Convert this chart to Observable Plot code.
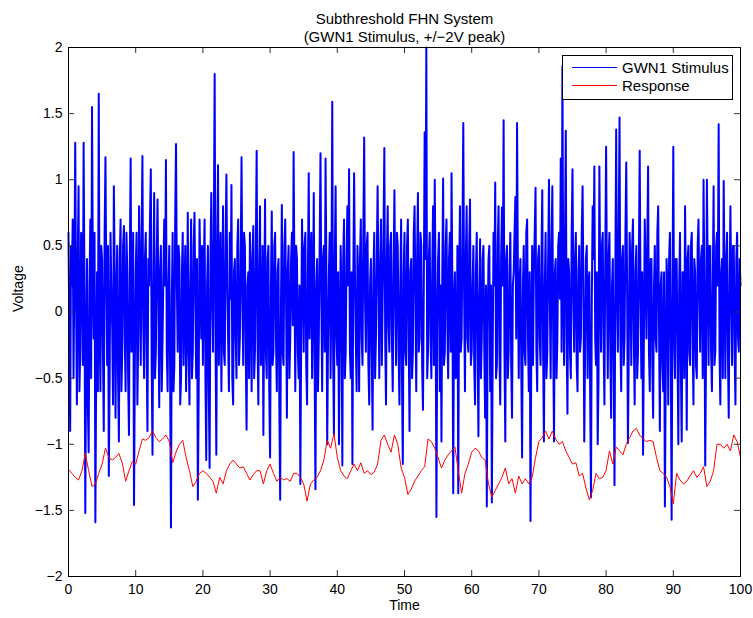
<!DOCTYPE html>
<html><head><meta charset="utf-8">
<script src="https://cdn.jsdelivr.net/npm/d3@7"></script>
<script src="https://cdn.jsdelivr.net/npm/@observablehq/plot@0.6"></script>
<style>
body{margin:0;background:#fff;}
#wrap{position:relative;width:753px;height:618px;font-family:"Liberation Sans",Arial,sans-serif;}
#legend{position:absolute;left:562px;top:55px;width:169px;height:43px;border:1px solid #000;background:#fff;font-size:15px;color:#000;}
.row{position:absolute;left:0;height:18px;display:flex;align-items:center;white-space:nowrap;}
.sw{display:inline-block;width:45px;height:0;border-top:1px solid;margin-left:9px;margin-right:5px;}
</style></head><body><div id="wrap"></div>
<script>
const stimulus = [
  0.6,-0.2,-0.9,0.5,0.2,0.7,-0.5,0.3,1.28,0.1,-0.7,0.4,0.95,-0.6,-0.3,0.6,0.5,-0.4,1.28,0.2,-1.52,-0.3,0.4,-0.7,-1.06,0.2,0.7,-0.5,1.55,0.3,-0.2,0.6,-1.59,-0.4,0.3,-0.6,1.65,-0.1,-0.6,0.5,0.4,-0.3,-0.9,0.6,1.17,0.2,-0.4,0.5,-1.24,-0.5,0.6,0.2,-0.1,-0.7,0.95,0.3,-0.8,0.1,0.5,-0.5,-0.98,0.4,0.7,-0.6,-0.3,0.5,0.65,-0.2,-0.6,0.6,0.3,-0.5,-0.93,0.4,1.16,-0.3,0.1,0.6,-1.46,-0.4,
  0.3,0.6,-0.7,-0.2,0.8,0.3,-0.4,0.5,1.18,-0.1,-0.5,0.4,0.6,-0.3,-0.9,0.4,0.2,0.7,1.08,-0.4,-1.08,0.2,0.9,-0.5,-0.3,0.4,0.85,0.1,-0.72,0.3,0.5,-0.6,-0.2,0.3,0.7,0.2,1.15,-0.3,-0.6,0.2,0.5,-0.5,-1.63,0.1,0.6,-0.6,-0.4,0.7,1.27,0.2,-0.3,0.5,0.4,-0.7,-0.5,0.3,0.6,-0.4,0.1,0.5,-0.6,-0.1,0.75,-0.3,-0.7,0.2,0.7,-0.5,-0.3,0.5,0.75,0.1,-0.5,0.4,-1.42,-0.6,0.7,0.3,-0.2,0.5,
  -0.4,0.3,0.7,-0.5,-1.12,0.2,0.5,-0.6,-1.18,0.4,0.9,0.1,-0.3,0.6,1.8,-0.2,-1.08,0.5,1.11,-0.4,0.2,0.6,-0.6,0.1,0.8,-0.3,-0.4,0.5,1.04,0.2,-0.2,-0.6,0.6,0.1,0.96,-0.5,-0.7,0.3,0.4,-0.2,-0.5,0.5,0.7,-0.4,-0.2,0.4,1.17,0.1,-0.4,0.6,0.5,-0.3,-0.89,0.2,0.3,-0.5,0.6,0.2,-0.6,0.4,0.65,-0.5,-0.3,0.5,1.22,-0.2,-0.7,0.3,0.8,-0.4,-0.2,0.5,-0.93,0.1,0.85,-0.3,-0.5,0.4,0.5,-0.6,
  -1.1,0.2,0.76,-0.4,-0.3,0.5,0.6,-0.2,-0.6,0.3,0.4,-0.7,-1.42,0.1,0.81,-0.3,-0.4,0.5,0.7,0.1,-0.8,0.3,0.5,-0.5,-0.2,0.4,0.6,-0.1,1.21,0.2,-0.6,0.5,0.4,-0.3,-0.5,0.2,-1.3,-0.2,0.7,0.3,-0.3,0.5,0.6,-0.4,-0.7,0.3,1.05,-0.2,0.2,0.6,-0.5,0.1,0.9,-0.4,-1.34,0.2,0.4,-0.6,-0.2,0.5,1.2,0.1,-0.6,0.4,0.5,-0.3,1.16,0.3,-1.0,-0.2,0.3,0.6,-0.5,0.2,1.59,-0.3,-0.93,0.4,0.95,-0.2,
  -0.4,0.3,-1.0,-0.2,0.5,0.1,-1.16,0.4,0.7,-0.5,-0.3,0.4,0.8,0.2,1.08,-0.3,-0.5,0.3,-1.15,0.2,1.05,0.3,-0.2,-0.6,0.5,0.2,-0.6,0.4,0.7,-0.2,-0.4,0.6,1.32,0.1,-0.3,0.5,0.6,-0.4,-0.7,0.2,0.4,-0.3,-0.89,0.3,0.6,-0.5,-0.2,0.4,0.95,0.2,-0.5,0.3,0.7,-0.4,0.1,0.6,1.24,-0.2,-0.7,0.4,0.8,-0.1,-0.3,0.5,0.6,-0.2,-0.6,0.3,0.92,0.1,-0.4,0.6,0.5,-0.3,-0.7,0.2,0.7,-0.5,-1.15,0.3,
  0.6,-0.3,-0.4,0.5,0.7,-0.2,-0.9,0.3,0.4,-0.5,-0.3,0.6,0.8,0.1,-0.6,0.4,0.9,-0.3,-0.2,0.6,0.5,-0.4,-0.74,0.2,1.36,0.4,2.0,-0.5,-0.3,0.4,0.6,-0.2,-0.5,0.3,0.8,-0.4,1.0,0.2,-1.55,-0.1,0.4,0.6,-0.6,0.2,-0.98,0.3,1.01,-0.4,-0.3,0.5,0.7,-0.1,-0.5,0.4,0.6,-0.3,1.05,0.2,-1.37,0.1,0.3,-0.5,-0.4,0.5,-1.37,0.2,0.8,-0.3,-0.2,0.6,1.43,0.1,-0.6,0.4,0.8,-0.2,-0.3,0.5,0.85,-0.4,
  -0.3,0.2,0.5,-0.4,-0.7,0.3,0.6,-0.2,-0.94,0.1,0.55,-0.5,-0.2,0.4,0.5,-0.3,-0.8,0.2,-1.47,-0.1,0.4,0.5,-0.6,0.2,-1.44,-0.3,0.6,0.2,0.98,-0.5,-0.4,0.5,0.8,-0.3,-0.7,0.4,0.79,0.2,1.45,-0.3,-0.98,0.4,0.5,-0.5,-0.3,0.3,0.6,-0.4,-0.8,0.2,0.3,0.6,0.87,-0.2,1.43,0.3,-0.5,0.2,0.4,-0.4,-1.1,0.2,0.5,-0.3,-0.4,0.6,0.7,-0.2,-0.6,0.3,-1.58,-0.2,0.5,-0.4,0.3,0.6,0.94,-0.3,-0.6,0.4,
  0.5,-0.2,-0.4,0.4,0.92,-0.3,-0.98,0.2,0.6,-0.5,-0.3,0.4,1.0,0.1,-0.5,0.5,0.95,-0.2,-0.98,0.3,0.4,-0.5,-0.2,0.5,0.6,0.1,1.16,-0.3,1.86,0.2,-0.4,0.5,1.37,-0.2,-0.77,0.4,0.3,-0.3,-0.5,0.6,1.08,0.1,-0.3,0.4,0.6,-0.4,-0.6,0.3,0.5,-0.3,-0.2,0.6,0.95,0.2,-0.98,-0.3,0.4,0.5,-0.5,0.2,0.3,-0.6,-1.4,0.1,0.8,0.4,1.1,-0.2,-0.4,0.3,-1.0,-0.5,1.1,0.2,-0.3,0.5,0.6,-0.2,-0.7,0.4,
  1.25,0.2,-0.5,0.4,0.6,-0.3,-0.8,0.2,0.4,-0.4,-1.31,0.3,1.38,0.1,-0.3,0.6,1.47,-0.2,-0.6,0.4,0.5,-0.4,-0.2,0.6,1.13,0.2,-0.99,-0.3,0.6,0.3,-0.4,0.5,0.7,-0.2,-0.7,0.3,0.5,-0.5,-0.3,0.4,1.22,0.1,-0.5,0.3,-1.08,-0.2,0.7,0.3,-0.2,0.5,1.1,-0.3,-0.6,0.4,0.4,-0.4,-0.8,0.2,0.5,-0.2,-0.3,0.6,0.8,-0.1,-0.9,0.2,0.3,-0.4,-0.6,0.3,-1.47,-0.5,0.4,0.2,-0.7,0.4,0.6,-0.3,-1.57,0.1,
  1.25,-0.2,-0.5,0.4,0.4,-0.3,-1.0,0.2,0.6,-0.4,-0.98,0.3,0.3,-0.5,0.8,0.1,-0.89,0.4,0.5,-0.3,-0.4,0.5,0.6,-0.2,-0.7,0.4,0.3,-0.4,-0.5,0.5,0.7,0.1,-0.3,0.4,0.5,-0.5,1.0,0.2,-1.16,-0.3,1.0,0.3,-0.4,0.5,0.5,-0.3,-0.6,0.2,0.95,-0.4,-0.3,0.5,0.6,0.2,1.42,-0.3,-0.7,0.3,0.4,-0.5,0.99,0.2,-0.5,0.4,0.6,-0.3,-0.8,0.2,0.8,0.1,-0.4,0.5,0.5,-0.3,-0.7,0.4,0.6,-0.2,-0.3,0.4,0.2
];
const response = [
  -1.19,-1.22,-1.25,-1.27,-1.2,-1.07,-1.2,-1.32,-1.3,-1.22,-1.15,-1.03,-1.1,-1.12,-1.1,-1.07,-1.14,-1.28,-1.2,-1.13,
  -1.15,-1.05,-0.96,-0.97,-0.95,-0.9,-0.95,-0.98,-0.96,-0.93,-0.98,-1.14,-1.06,-1.0,-0.97,-1.1,-1.2,-1.32,-1.28,-1.22,
  -1.2,-1.22,-1.25,-1.28,-1.37,-1.25,-1.3,-1.2,-1.15,-1.12,-1.15,-1.18,-1.17,-1.22,-1.27,-1.23,-1.2,-1.2,-1.3,-1.2,
  -1.15,-1.22,-1.28,-1.25,-1.27,-1.26,-1.28,-1.22,-1.22,-1.25,-1.3,-1.43,-1.3,-1.27,-1.25,-1.2,-1.12,-0.97,-1.03,-0.92,
  -1.1,-1.2,-1.24,-1.26,-1.2,-1.15,-1.2,-1.14,-1.22,-1.2,-1.23,-1.21,-1.15,-0.97,-0.93,-1.0,-1.06,-0.93,-1.0,-1.18,
  -1.25,-1.38,-1.34,-1.28,-1.24,-1.2,-1.17,-0.96,-0.98,-1.03,-1.1,-1.18,-1.12,-1.08,-1.05,-1.02,-1.2,-1.37,-1.22,-1.15,
  -1.06,-1.03,-1.05,-1.1,-1.12,-1.3,-1.4,-1.35,-1.3,-1.25,-1.18,-1.3,-1.26,-1.37,-1.24,-1.3,-1.26,-1.3,-1.25,-1.1,
  -0.98,-0.95,-0.9,-0.96,-0.9,-0.96,-1.0,-0.98,-1.05,-1.1,-1.15,-1.14,-1.24,-1.22,-1.33,-1.42,-1.35,-1.22,-1.26,-1.25,
  -1.2,-1.05,-1.15,-1.02,-1.05,-1.08,-1.0,-0.95,-0.9,-0.88,-0.93,-0.96,-0.98,-0.97,-0.98,-1.1,-1.2,-1.22,-1.25,-1.32,
  -1.45,-1.22,-1.27,-1.3,-1.28,-1.24,-1.2,-1.25,-1.22,-1.17,-1.32,-1.28,-1.2,-1.0,-1.0,-1.03,-1.0,-1.05,-0.93,-0.98,-1.1
];
const timeSpan = [0, 100];
const xTicks = [0,10,20,30,40,50,60,70,80,90,100];
const xTickLabels = ["0","10","20","30","40","50","60","70","80","90","100"];
const yTicks = [-2,-1.5,-1,-0.5,0,0.5,1,1.5,2];
const yTickLabels = ["\u22122","\u22121.5","\u22121","\u22120.5","0","0.5","1","1.5","2"];
const seriesNames = ["GWN1 Stimulus","Response"];
const seriesColors = ["#0000ff","#ff0000"];
const titleLines = ["Subthreshold FHN System","(GWN1 Stimulus, +/\u22122V peak)"];
const xLabel = ["Time"];
const yLabel = ["Voltage"];

// ---- build ----
const W = 753, H = 618, ML = 68, MR = 13, MT = 47, MB = 42;
const PW = W - ML - MR, PH = H - MT - MB, TICK = 6;
const toPts = arr => arr.map((v, i) => ({t: timeSpan[0] + i * (timeSpan[1] - timeSpan[0]) / (arr.length - 1), v}));
const stimPts = toPts(stimulus);
const respPts = toPts(response);

const plot = Plot.plot({
  width: W, height: H,
  marginLeft: ML, marginRight: MR, marginTop: MT, marginBottom: MB,
  x: {domain: timeSpan},
  y: {domain: [yTicks[0], yTicks[yTicks.length - 1]]},
  style: {fontFamily: "'Liberation Sans', Arial, sans-serif", fontSize: "14px", background: "#fff", color: "#000", overflow: "visible"},
  marks: [
    Plot.line(stimPts, {x: "t", y: "v", stroke: seriesColors[0], strokeWidth: 2}),
    Plot.line(respPts, {x: "t", y: "v", stroke: seriesColors[1], strokeWidth: 1}),
    Plot.ruleX(xTicks, {x: d => d, insetTop: PH - TICK, stroke: "#333"}),
    Plot.ruleX(xTicks, {x: d => d, insetBottom: PH - TICK, stroke: "#333"}),
    Plot.ruleY(yTicks, {y: d => d, insetRight: PW - TICK, stroke: "#333"}),
    Plot.ruleY(yTicks, {y: d => d, insetLeft: PW - TICK, stroke: "#333"}),
    Plot.frame({stroke: "#000", strokeWidth: 1}),
    Plot.axisX({ticks: xTicks, tickSize: 0, tickPadding: 8, label: null, fontSize: 14,
      tickFormat: d => xTickLabels[xTicks.indexOf(d)]}),
    Plot.axisY({ticks: yTicks, tickSize: 0, tickPadding: 6, label: null, fontSize: 14,
      tickFormat: d => yTickLabels[yTicks.indexOf(d)]}),
    Plot.text(xLabel, {text: d => d, frameAnchor: "bottom", dy: 33, fontSize: 14}),
    Plot.text(yLabel, {text: d => d, frameAnchor: "left", dx: -50, rotate: -90, fontSize: 14}),
    Plot.text([titleLines[0]], {text: d => d, frameAnchor: "top", dy: -34, fontSize: 15}),
    Plot.text([titleLines[1]], {text: d => d, frameAnchor: "top", dy: -16, fontSize: 15})
  ]
});
const wrap = document.getElementById("wrap");
wrap.append(plot);

const legend = document.createElement("div");
legend.id = "legend";
seriesNames.forEach((name, i) => {
  const row = document.createElement("div");
  row.className = "row";
  row.style.top = (2 + i * 18) + "px";
  const sw = document.createElement("span");
  sw.className = "sw";
  sw.style.borderTopColor = seriesColors[i];
  const lbl = document.createElement("span");
  lbl.textContent = name;
  row.append(sw, lbl);
  legend.append(row);
});
wrap.append(legend);
</script>
</body></html>
